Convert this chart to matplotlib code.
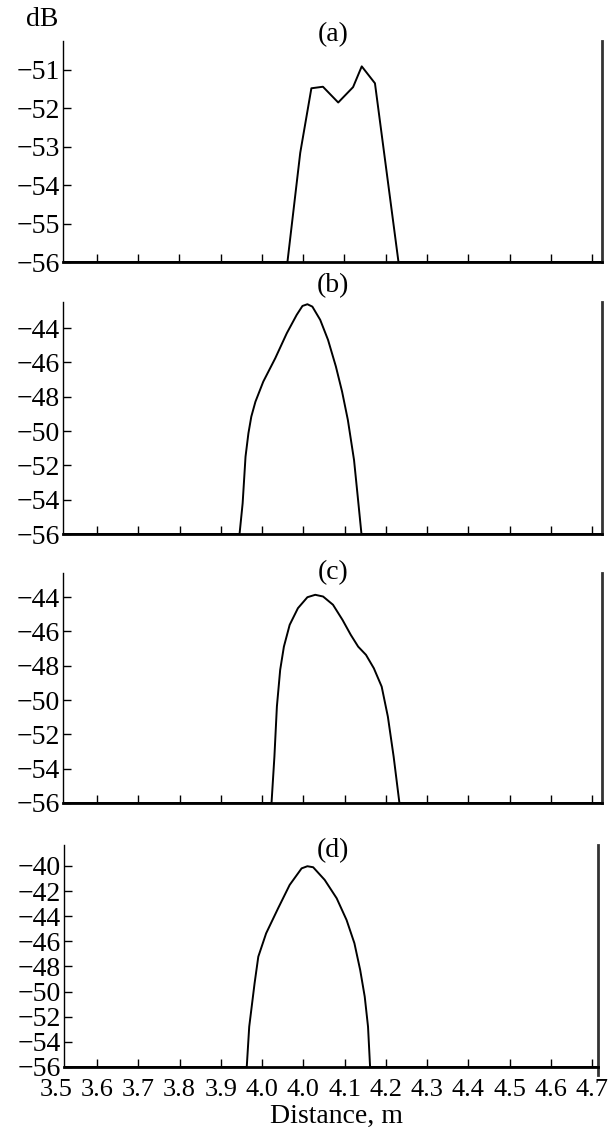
import matplotlib
matplotlib.use("Agg")
import matplotlib.pyplot as plt

plt.rcParams['font.family'] = ['Liberation Serif', 'DejaVu Serif']
plt.rcParams['axes.unicode_minus'] = True

# tick positions and (as printed) labels
tick_pos = [3.5, 3.6, 3.7, 3.8, 3.9, 4.0, 4.1, 4.2, 4.3, 4.4, 4.5, 4.6, 4.7, 4.8]
tick_lab = ["3.5", "3.6", "3.7", "3.8", "3.9", "4.0", "4.0", "4.1",
            "4.2", "4.3", "4.4", "4.5", "4.6", "4.7"]

# panel (a)
xa = [3.50, 4.062, 4.093, 4.120, 4.148, 4.185, 4.221, 4.242, 4.274, 4.331, 4.85]
ya = [-56, -56, -53.16, -51.48, -51.44, -51.85, -51.45, -50.91, -51.35, -56, -56]

# panel (b)
xb = [3.50, 3.9455, 3.953, 3.960, 3.967, 3.974, 3.984, 4.003, 4.032, 4.060, 4.084,
      4.098, 4.110, 4.122, 4.141, 4.160, 4.179, 4.194, 4.208, 4.223, 4.232, 4.241, 4.85]
yb = [-56, -56, -54.21, -51.49, -50.13, -49.16, -48.29, -47.12, -45.76, -44.30, -43.23,
      -42.71, -42.61, -42.75, -43.52, -44.69, -46.24, -47.70, -49.35, -51.69, -53.83, -56, -56]

# panel (c)
xc = [3.50, 4.023, 4.030, 4.036, 4.044, 4.053, 4.067, 4.087, 4.110, 4.129, 4.148,
      4.172, 4.195, 4.215, 4.233, 4.252, 4.271, 4.290, 4.305, 4.319, 4.333, 4.85]
yc = [-56, -56, -53.30, -50.38, -48.24, -46.89, -45.62, -44.65, -44.01, -43.87, -43.97,
      -44.45, -45.33, -46.20, -46.89, -47.37, -48.15, -49.22, -50.97, -53.30, -56, -56]

# panel (d)
xd = [3.50, 3.963, 3.969, 3.982, 3.991, 4.010, 4.039, 4.067, 4.096, 4.110, 4.124,
      4.152, 4.181, 4.205, 4.224, 4.238, 4.249, 4.257, 4.262, 4.85]
yd = [-56, -56, -52.79, -49.34, -47.22, -45.36, -43.37, -41.51, -40.19, -40.02, -40.10,
      -41.11, -42.57, -44.30, -46.15, -48.28, -50.40, -52.79, -56, -56]

W, H = 613, 1130
fig = plt.figure(figsize=(W / 100, H / 100), dpi=100)

panels = [
    dict(x=xa, y=ya, box=(62.7, 602, 41, 262), ylim=(-56, -50.25),
         yt=[-51, -52, -53, -54, -55, -56], xlim=(3.5176, 4.824), title="(a)", ty=35),
    dict(x=xb, y=yb, box=(63, 602, 302, 534), ylim=(-56, -42.48),
         yt=[-44, -46, -48, -50, -52, -54, -56], xlim=(3.5176, 4.824), title="(b)", ty=286),
    dict(x=xc, y=yc, box=(63, 602, 573, 803), ylim=(-56, -42.6),
         yt=[-44, -46, -48, -50, -52, -54, -56], xlim=(3.5176, 4.824), title="(c)", ty=573),
    dict(x=xd, y=yd, box=(64, 598, 845, 1067), ylim=(-56, -38.33),
         yt=[-40, -42, -44, -46, -48, -50, -52, -54, -56], xlim=(3.520, 4.8145), title="(d)", ty=851),
]

fs = 20
fs_x = 19
for i, p in enumerate(panels):
    l, r, t, b = p['box']
    ax = fig.add_axes([l / W, 1 - b / H, (r - l) / W, (b - t) / H])
    ax.plot(p['x'], p['y'], color='black', lw=1.4, clip_on=True)
    ax.set_yticks(p['yt'])
    ax.set_yticklabels([f"\u2212{abs(v)}" for v in p['yt']])
    ax.set_xticks(tick_pos)
    if i == 3:
        ax.set_xticklabels(tick_lab)
        # first label sits left of the axis frame
        ax.text(tick_pos[0], 0, tick_lab[0], transform=ax.get_xaxis_transform(),
                ha='center', va='top', fontsize=fs_x, clip_on=False)
    else:
        ax.set_xticklabels([])
    ax.set_xlim(*p['xlim'])
    ax.set_ylim(*p['ylim'])
    ax.tick_params(direction='in', length=6, width=1.0, labelsize=fs, pad=2)
    ax.tick_params(axis='x', pad=9, labelsize=fs_x)
    ax.spines['top'].set_visible(False)
    ax.spines['bottom'].set_linewidth(2.0)
    ax.spines['left'].set_linewidth(1.0)
    ax.spines['right'].set_linewidth(2.0)
    ax.spines['right'].set_color('#333333')
    if i == 3:
        ax.spines['right'].set_bounds(-56.6, p['ylim'][1])
    fig.text(333 / W, 1 - p['ty'] / H, p['title'], ha='center', va='center', fontsize=fs)
    if i == 3:
        lab_ax = ax

# position the outside "3.5" label at the same height as the other tick labels
fig.canvas.draw()
tl = lab_ax.get_xticklabels()[1]
for txt in lab_ax.texts:
    txt.set_y(tl.get_position()[1])
    txt.set_transform(tl.get_transform())

fig.text(42 / W, 1 - 20 / H, "dB", ha='center', va='center', fontsize=fs)
fig.text(337 / W, 1 - 1116 / H, "Distance, m", ha='center', va='center', fontsize=fs)

fig.savefig("out.png", dpi=100)
